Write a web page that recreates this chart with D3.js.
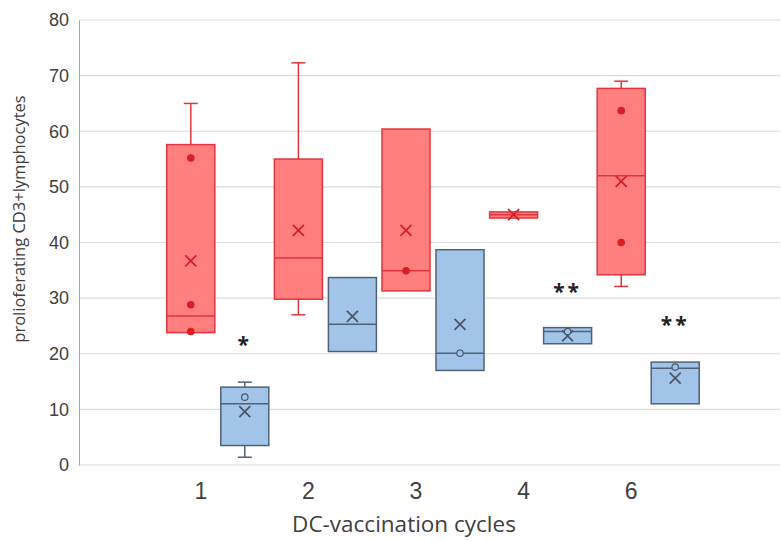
<!DOCTYPE html>
<html>
<head>
<meta charset="utf-8">
<script src="https://cdn.jsdelivr.net/npm/d3@7"></script>
<style>
  body { margin: 0; background: #fff; }
  svg { font-family: "Open Sans", sans-serif; }
</style>
</head>
<body>
<div id="chart"></div>
<script>
// categories and tick labels
const categories = ['1', '2', '3', '4', '6'];
const yTicks = [0, 10, 20, 30, 40, 50, 60, 70, 80];

// red series (box stats per cycle)
const redMin    = [23.8, 27.0, 31.3, 44.4, 32.1];
const redQ1     = [23.8, 29.8, 31.3, 44.4, 34.2];
const redMedian = [26.8, 37.2, 34.9, 45.0, 52.0];
const redQ3     = [57.6, 55.0, 60.4, 45.5, 67.7];
const redMax    = [65.0, 72.3, 60.4, 45.5, 69.0];
const redMean   = [36.7, 42.2, 42.2, 45.0, 51.0];
const redPoints = [[55.2, 28.8, 24.0], [], [34.9], [], [63.7, 40.0]];

// blue series
const blueMin    = [1.4, 20.4, 17.0, 21.8, 11.0];
const blueQ1     = [3.5, 20.4, 17.0, 21.8, 11.0];
const blueMedian = [11.0, 25.3, 20.1, 24.0, 17.4];
const blueQ3     = [14.0, 33.7, 38.7, 24.7, 18.5];
const blueMax    = [14.9, 33.7, 38.7, 24.7, 18.5];
const blueMean   = [9.6, 26.7, 25.3, 23.2, 15.6];
const bluePoints = [[12.2], [], [20.1], [24.0], [17.6]];

// significance marks above blue boxes
const sigLabels = ['*', '', '', '**', '**'];
const sigValues = [21.9, null, null, 31.5, 25.6];

const W = 781, H = 541;
const plotLeft = 79, plotRight = 780, plotTop = 20, plotBottom = 465;
const boxW = 48, offset = 27, capW = 14;

const svg = d3.select('#chart').append('svg')
  .attr('width', W)
  .attr('height', H);

const y = d3.scaleLinear().domain([0, 80]).range([plotBottom, plotTop]);
const x = d3.scaleBand().domain(categories).range([164, 702]);
const cx = c => x(c) + x.bandwidth() / 2;

// gridlines
svg.append('g')
  .selectAll('line')
  .data(yTicks)
  .enter().append('line')
  .attr('x1', plotLeft).attr('x2', plotRight)
  .attr('y1', d => y(d)).attr('y2', d => y(d))
  .attr('stroke', '#dcdcdc')
  .attr('stroke-width', 1.2);

// y axis
const yAxis = d3.axisLeft(y).tickValues(yTicks).tickSize(0).tickPadding(10);
const gy = svg.append('g')
  .attr('transform', 'translate(' + plotLeft + ',0)')
  .call(yAxis);
gy.select('.domain').attr('stroke', '#a6a6a6').attr('stroke-width', 1);
gy.selectAll('text')
  .attr('fill', '#404040')
  .style('font-size', '18px');

// x axis
const xAxis = d3.axisBottom(x).tickSize(0).tickPadding(18);
const gx = svg.append('g')
  .attr('transform', 'translate(0,' + plotBottom + ')')
  .call(xAxis);
gx.select('.domain').remove();
gx.selectAll('text')
  .attr('dx', -17)
  .attr('fill', '#404040')
  .style('font-size', '23px');

// axis titles
svg.append('text')
  .attr('x', 404).attr('y', 532)
  .attr('text-anchor', 'middle')
  .attr('fill', '#404040')
  .style('font-size', '22.5px')
  .text('DC-vaccination cycles');

svg.append('text')
  .attr('transform', 'translate(25,219) rotate(-90)')
  .attr('text-anchor', 'middle')
  .attr('fill', '#404040')
  .style('font-size', '16.5px')
  .text('prolioferating CD3+lymphocytes');

function drawSeries(dx, s, style) {
  const g = svg.append('g');
  categories.forEach((c, i) => {
    const xc = cx(c) + dx;
    // whiskers
    if (s.max[i] > s.q3[i]) {
      g.append('line').attr('x1', xc).attr('x2', xc)
        .attr('y1', y(s.q3[i])).attr('y2', y(s.max[i]))
        .attr('stroke', style.stroke).attr('stroke-width', 1.5);
      g.append('line').attr('x1', xc - capW / 2).attr('x2', xc + capW / 2)
        .attr('y1', y(s.max[i])).attr('y2', y(s.max[i]))
        .attr('stroke', style.stroke).attr('stroke-width', 1.5);
    }
    if (s.min[i] < s.q1[i]) {
      g.append('line').attr('x1', xc).attr('x2', xc)
        .attr('y1', y(s.q1[i])).attr('y2', y(s.min[i]))
        .attr('stroke', style.stroke).attr('stroke-width', 1.5);
      g.append('line').attr('x1', xc - capW / 2).attr('x2', xc + capW / 2)
        .attr('y1', y(s.min[i])).attr('y2', y(s.min[i]))
        .attr('stroke', style.stroke).attr('stroke-width', 1.5);
    }
    // box
    g.append('rect')
      .attr('x', xc - boxW / 2)
      .attr('y', y(s.q3[i]))
      .attr('width', boxW)
      .attr('height', Math.max(y(s.q1[i]) - y(s.q3[i]), 1))
      .attr('fill', style.fill)
      .attr('stroke', style.stroke)
      .attr('stroke-width', 1.5);
    // median
    g.append('line')
      .attr('x1', xc - boxW / 2).attr('x2', xc + boxW / 2)
      .attr('y1', y(s.median[i])).attr('y2', y(s.median[i]))
      .attr('stroke', style.stroke).attr('stroke-width', 1.5);
    // mean X
    const my = y(s.mean[i]), r = 5.5;
    g.append('path')
      .attr('d', `M${xc - r},${my - r}L${xc + r},${my + r}M${xc - r},${my + r}L${xc + r},${my - r}`)
      .attr('stroke', style.mark).attr('stroke-width', 1.8).attr('fill', 'none');
    // points
    s.points[i].forEach(v => {
      g.append('circle')
        .attr('cx', xc).attr('cy', y(v)).attr('r', 3.2)
        .attr('fill', style.pointFill)
        .attr('stroke', style.mark).attr('stroke-width', 1.2);
    });
  });
}

drawSeries(-offset,
  { min: redMin, q1: redQ1, median: redMedian, q3: redQ3, max: redMax, mean: redMean, points: redPoints },
  { fill: '#ff7f7f', stroke: '#e2343c', mark: '#d91e26', pointFill: '#d91e26' });

drawSeries(offset,
  { min: blueMin, q1: blueQ1, median: blueMedian, q3: blueQ3, max: blueMax, mean: blueMean, points: bluePoints },
  { fill: '#a2c4e8', stroke: '#4f6275', mark: '#4a5868', pointFill: '#a2c4e8' });

// significance stars
svg.append('g')
  .selectAll('text')
  .data(categories.filter((c, i) => sigLabels[i]))
  .enter().append('text')
  .attr('x', c => cx(c) + offset)
  .attr('y', c => y(sigValues[categories.indexOf(c)]) + 9)
  .attr('text-anchor', 'middle')
  .attr('fill', '#222')
  .style('font-size', '21px')
  .style('font-weight', 'bold')
  .style('letter-spacing', '3px')
  .text(c => sigLabels[categories.indexOf(c)]);
</script>
</body>
</html>
